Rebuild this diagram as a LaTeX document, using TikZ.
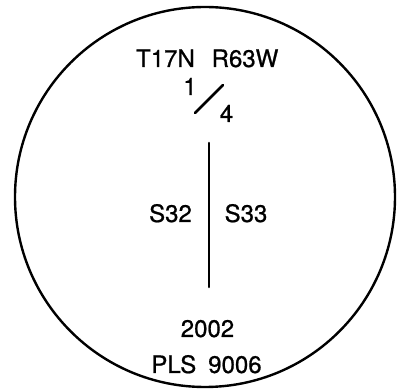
\documentclass[tikz,border=0pt]{standalone}
\usepackage{fontspec}
\setmainfont{TeX Gyre Heros}
\newfontfamily\plotfont{TeX Gyre Heros}[FakeBold=0.8]
\usetikzlibrary{positioning,calc}

\tikzset{
  lbl/.style={anchor=base,inner sep=0pt,font=\plotfont\fontsize{24}{29}\selectfont},
  plotline/.style={line width=2.6pt,line cap=round}
}

\begin{document}
\begin{tikzpicture}[x=1pt,y=-1pt]
\useasboundingbox (0,0) rectangle (400,390);
% outer circle
\draw[line width=2.4pt] (205,197) circle (190);
% township and range
\node[lbl] (twp) at (165.5,67) {T17N};
\node[lbl] (rng) at (245,67) {R63W};
% quarter
\node[lbl] (num) at (190,95) {1};
\node[lbl] (den) at (226.5,122) {4};
\coordinate (s1) at (195,113);
\coordinate (s2) at (223,85);
\draw[plotline] (s1) -- (s2);
% section line
\coordinate (top) at (209,143);
\coordinate (bot) at (209,287);
\draw[plotline] (top) -- (bot);
\node[lbl] (secw) at (170.5,222) {S32};
\node[lbl] (sece) at (246,222) {S33};
% year and number
\node[lbl] (year) at (207.5,337) {2002};
\node[lbl] (pls) at (206.5,373) {PLS\hspace{0.5em}9006};
\end{tikzpicture}
\end{document}
